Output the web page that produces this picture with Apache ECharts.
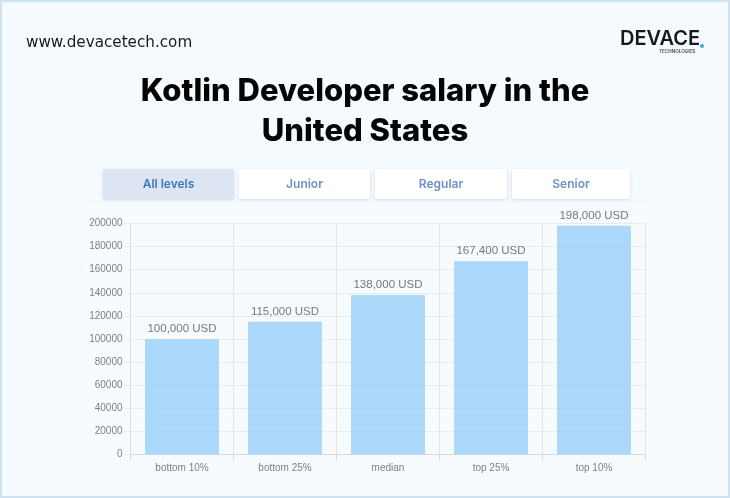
<!DOCTYPE html>
<html lang="en">
<head>
<meta charset="UTF-8">
<title>Kotlin Developer salary</title>
<script src="https://cdn.jsdelivr.net/npm/echarts@6/dist/echarts.min.js"></script>
<style>
  html, body { margin: 0; padding: 0; background: #f5faff; }
  #main { width: 730px; height: 498px; }
</style>
</head>
<body>
<div id="main"></div>
<script>
var categories = ['bottom 10%', 'bottom 25%', 'median', 'top 25%', 'top 10%'];
var salaries = [100000, 115000, 138000, 167400, 198000];
var tabLabels = ['All levels', 'Junior', 'Regular', 'Senior'];
var titleLines = 'Kotlin Developer salary in the\nUnited States';
var siteText = 'www.devacetech.com';

var tabX = [103, 239, 375, 512];
var tabW = [131, 131, 132, 118];

var chart = echarts.init(document.getElementById('main'));

var graphics = [
  { type: 'rect', silent: true, z: -10, shape: { x: 1, y: 1, width: 728, height: 496 },
    style: { fill: '#f5faff', stroke: '#cde2f2', lineWidth: 2 } },
  { type: 'rect', silent: true, z: -9, shape: { x: 84, y: 204, width: 570, height: 278, r: 8 },
    style: { fill: '#f8fbfd' } },
  { type: 'text', left: 26, top: 36, style: { text: siteText, fill: '#1a1a1a',
      font: '400 15.2px "DejaVu Sans", sans-serif' } },
  { type: 'text', left: 620, top: 29, style: { text: 'DEVACE', fill: '#16181d',
      font: '600 20px "Inter", sans-serif' } },
  { type: 'circle', silent: true, shape: { cx: 702, cy: 46, r: 2 }, style: { fill: '#4aa3d0' } },
  { type: 'text', left: 659, top: 49, style: { text: 'TECHNOLOGIES', fill: '#555b66',
      font: '700 4.6px "Inter", sans-serif' } }
];

tabLabels.forEach(function (label, i) {
  var active = i === 0;
  graphics.push({
    type: 'rect', silent: true,
    shape: { x: tabX[i], y: 169, width: tabW[i], height: 30, r: 2 },
    style: { fill: active ? '#dde4f2' : '#ffffff', shadowBlur: 3, shadowOffsetY: 1,
      shadowColor: 'rgba(120,140,170,0.3)' }
  });
  graphics.push({
    type: 'text', silent: true, x: tabX[i] + tabW[i] / 2, y: 184,
    style: { text: label, fill: active ? '#3d78bf' : '#6d90c9', align: 'center', verticalAlign: 'middle',
      font: '600 12px "Inter", sans-serif' }
  });
});

chart.setOption({
  animation: false,
  backgroundColor: '#f5faff',
  title: {
    text: titleLines, left: 365, top: 72, padding: 0, textAlign: 'center',
    textStyle: { fontFamily: 'Inter', fontWeight: 800, fontSize: 31, lineHeight: 40, color: '#050505' }
  },
  graphic: graphics,
  grid: { left: 130.5, right: 84.5, top: 223.5, bottom: 43.5 },
  xAxis: {
    type: 'category',
    data: categories,
    axisLine: { lineStyle: { color: '#d6dbe0', width: 1 } },
    axisTick: { show: true, length: 6, alignWithLabel: false, lineStyle: { color: '#d6dbe0' } },
    axisLabel: { color: '#7f7f7f', fontFamily: 'Liberation Sans', fontSize: 10, margin: 9 },
    splitLine: { show: true, lineStyle: { color: '#e0e5e9', width: 1 } }
  },
  yAxis: {
    type: 'value', min: 0, max: 200000, interval: 20000,
    axisLine: { show: true, lineStyle: { color: '#d6dbe0' } },
    axisTick: { show: true, length: 6, lineStyle: { color: '#e6ebef' } },
    axisLabel: { color: '#7f7f7f', fontFamily: 'Liberation Sans', fontSize: 10, margin: 8,
      formatter: function (v) { return String(v); } },
    splitLine: { show: true, lineStyle: { color: '#e6ebef', width: 1 } }
  },
  series: [{
    type: 'bar',
    data: salaries,
    barWidth: 74,
    itemStyle: { color: 'rgba(152,207,250,0.8)' },
    label: {
      show: true, position: 'top', distance: 4,
      color: '#777777', fontFamily: 'Liberation Sans', fontSize: 11.5,
      formatter: function (p) { return p.value.toLocaleString('en-US') + ' USD'; }
    }
  }]
});
</script>
</body>
</html>
